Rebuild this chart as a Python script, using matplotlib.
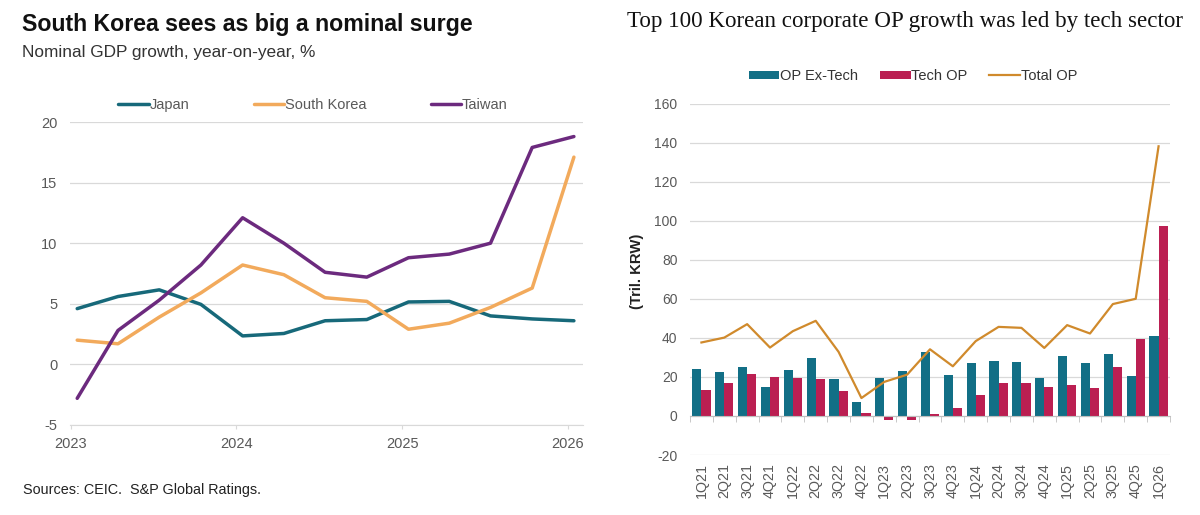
import matplotlib
matplotlib.use('Agg')
import matplotlib.pyplot as plt
import matplotlib.dates as mdates
import numpy as np
import pandas as pd

# left chart: nominal GDP growth, y/y %
dates = ['2023-01-15', '2023-04-15', '2023-07-15', '2023-10-15',
         '2024-01-15', '2024-04-15', '2024-07-15', '2024-10-15',
         '2025-01-15', '2025-04-15', '2025-07-15', '2025-10-15',
         '2026-01-15']
japan = [4.6, 5.6, 6.15, 4.95, 2.35, 2.55, 3.6, 3.7, 5.15, 5.2, 4.0, 3.75, 3.6]
korea = [2.0, 1.7, 3.9, 5.9, 8.2, 7.4, 5.5, 5.2, 2.9, 3.4, 4.7, 6.3, 17.1]
taiwan = [-2.8, 2.8, 5.3, 8.2, 12.1, 10.0, 7.6, 7.2, 8.8, 9.1, 10.0, 17.9, 18.8]

# right chart: top 100 Korean corporate OP
quarters = ['1Q21', '2Q21', '3Q21', '4Q21', '1Q22', '2Q22', '3Q22', '4Q22',
            '1Q23', '2Q23', '3Q23', '4Q23', '1Q24', '2Q24', '3Q24', '4Q24',
            '1Q25', '2Q25', '3Q25', '4Q25', '1Q26']
op_ex_tech = [24.0, 22.8, 25.0, 14.9, 23.6, 29.5, 19.2, 7.2, 19.5, 23.3, 32.9,
              21.2, 27.4, 28.3, 27.7, 19.5, 30.7, 27.1, 32.0, 20.5, 41.1]
tech_op = [13.5, 17.1, 21.7, 20.0, 19.7, 18.8, 13.0, 1.7, -1.9, -1.9, 1.0,
           4.1, 10.6, 17.1, 17.1, 15.1, 15.8, 14.6, 25.2, 39.7, 97.3]
total_op = [37.7, 40.2, 47.1, 35.1, 43.5, 48.8, 32.9, 9.2, 17.5, 21.2, 34.2,
            25.5, 38.4, 45.7, 45.2, 34.9, 46.6, 42.3, 57.4, 60.1, 138.3]

plt.rcParams['font.family'] = ['Liberation Sans', 'DejaVu Sans']
plt.rcParams['axes.unicode_minus'] = False

fig = plt.figure(figsize=(12, 5.15), dpi=100)

grid_c = '#d9d9d9'
tick_c = '#595959'

# ---------------- left chart
ax = fig.add_axes([0.0583, 0.1748, 0.4275, 0.5883])
x = pd.to_datetime(dates)
ax.plot(x, japan, color='#17697a', lw=2.5, label='Japan', solid_capstyle='round')
ax.plot(x, korea, color='#f2aa5c', lw=2.5, label='South Korea', solid_capstyle='round')
ax.plot(x, taiwan, color='#6c2a7e', lw=2.5, label='Taiwan', solid_capstyle='round')

ax.set_ylim(-5, 20)
ax.set_yticks([-5, 0, 5, 10, 15, 20])
ax.set_xlim(pd.Timestamp('2022-12-30'), pd.Timestamp('2026-02-04'))
ax.xaxis.set_major_locator(mdates.YearLocator())
ax.xaxis.set_major_formatter(mdates.DateFormatter('%Y'))
ax.grid(axis='y', color=grid_c, lw=0.9)
ax.set_axisbelow(True)
for s in ['top', 'right', 'left']:
    ax.spines[s].set_visible(False)
ax.spines['bottom'].set_color(grid_c)
ax.tick_params(axis='y', length=0, pad=9, labelsize=10.5, labelcolor=tick_c)
ax.tick_params(axis='x', length=3, color=grid_c, pad=6, labelsize=10.5, labelcolor=tick_c)

fig.legend(handles=ax.get_lines(), loc='center', bbox_to_anchor=(313 / 1200, 0.796),
           ncol=3, frameon=False, fontsize=10.5, handlelength=2.1, handletextpad=0.05,
           columnspacing=4.4, labelcolor='#595959')

fig.text(22 / 1200, 1 - 24 / 515, 'South Korea sees as big a nominal surge',
         fontsize=16.7, fontweight='bold', va='center', ha='left', color='#111111')
fig.text(22 / 1200, 1 - 52 / 515, 'Nominal GDP growth, year-on-year, %',
         fontsize=12.4, va='center', ha='left', color='#333333')
fig.text(23 / 1200, 1 - 490 / 515, 'Sources: CEIC.  S&P Global Ratings.',
         fontsize=10.4, va='center', ha='left', color='#222222')

# ---------------- right chart
ax2 = fig.add_axes([0.575, 0.1165, 0.4, 0.6816])
pos = np.arange(len(quarters))
w = 0.4
ax2.bar(pos - w / 2, op_ex_tech, width=w, color='#126f86', label='OP Ex-Tech')
ax2.bar(pos + w / 2, tech_op, width=w, color='#bb1f52', label='Tech OP')
ax2.plot(pos, total_op, color='#d08a2c', lw=1.6, label='Total OP')

ax2.set_xlim(-0.5, len(quarters) - 0.5)
ax2.set_ylim(-20, 160)
ax2.set_yticks(np.arange(-20, 161, 20))
ax2.grid(axis='y', color=grid_c, lw=0.9)
ax2.set_axisbelow(True)
for s in ['top', 'right', 'left']:
    ax2.spines[s].set_visible(False)
ax2.spines['bottom'].set_position(('data', 0))
ax2.spines['bottom'].set_color('#bfbfbf')
ax2.set_xticks(pos)
ax2.set_xticklabels(quarters, rotation=90)
ax2.set_xticks(np.arange(len(quarters) + 1) - 0.5, minor=True)
ax2.tick_params(axis='x', which='major', length=0, pad=34, labelsize=10.3, labelcolor=tick_c)
ax2.tick_params(axis='x', which='minor', length=4, color='#bfbfbf')
ax2.tick_params(axis='y', length=0, pad=9, labelsize=10, labelcolor=tick_c)
ax2.set_ylabel('(Tril. KRW)', fontsize=10.7, fontweight='bold', color='#222222')
ax2.yaxis.set_label_coords(-0.095, 0.524)

h, l = ax2.get_legend_handles_labels()
order = [1, 2, 0]
fig.legend([h[i] for i in order], [l[i] for i in order], loc='center',
           bbox_to_anchor=(913 / 1200, 1 - 76 / 515), ncol=3, frameon=False,
           fontsize=10.5, handlelength=2.1, handleheight=0.5, handletextpad=0.05,
           columnspacing=1.5, labelcolor='#333333')

fig.text(905 / 1200, 1 - 21 / 515, 'Top 100 Korean corporate OP growth was led by tech sector',
         fontsize=16.6, family=['Liberation Serif', 'DejaVu Serif'], va='center', ha='center',
         color='#111111')

fig.savefig('out.png', dpi=100)
